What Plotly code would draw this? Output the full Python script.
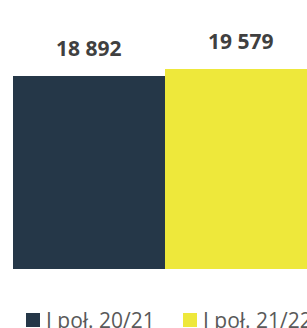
import plotly.graph_objects as go

series_names = ["I poł. 20/21", "I poł. 21/22"]
values = [18892, 19579]
labels = ["18 892", "19 579"]
colors = ["#253748", "#EEE83B"]

fig = go.Figure()
for i, (name, v, c) in enumerate(zip(series_names, values, colors)):
    fig.add_trace(go.Bar(x=[i], y=[v], name=name, marker=dict(color=c, line=dict(width=0)),
                         width=1.0, showlegend=False, hoverinfo="skip"))
    fig.add_annotation(x=i, y=v, text=f"<b>{labels[i]}</b>", showarrow=False,
                       yanchor="bottom", yshift=12,
                       font=dict(family="Open Sans", size=21, color="#404040"))

# manual legend (squares + text), plot area spans x 13..307 px, y 20..269 px
W, H, L, B = 294.0, 249.0, 13.0, 269.0
def px(xp):
    return (xp - L) / W
def py(yp):
    return (B - yp) / H

legend_x = [26, 183]
for i, (name, c) in enumerate(zip(series_names, colors)):
    x0 = legend_x[i]
    fig.add_shape(type="rect", xref="paper", yref="paper",
                  x0=px(x0), x1=px(x0 + 14), y0=py(327), y1=py(313),
                  fillcolor=c, line=dict(width=0))
    fig.add_annotation(xref="paper", yref="paper", x=px(x0 + 18), y=py(320),
                       xanchor="left", yanchor="middle", text=name, showarrow=False,
                       font=dict(family="Open Sans", size=21, color="#595959"))

fig.update_layout(
    width=307, height=328,
    margin=dict(l=13, r=0, t=20, b=59),
    paper_bgcolor="white", plot_bgcolor="white",
    bargap=0,
    showlegend=False,
    xaxis=dict(range=[-0.5, 1.434], visible=False),
    yaxis=dict(range=[0, 24374], visible=False),
)
fig.write_html("out.html", config={"displayModeBar": False},
               post_script="document.body.style.margin='0';document.body.style.overflow='hidden';")
